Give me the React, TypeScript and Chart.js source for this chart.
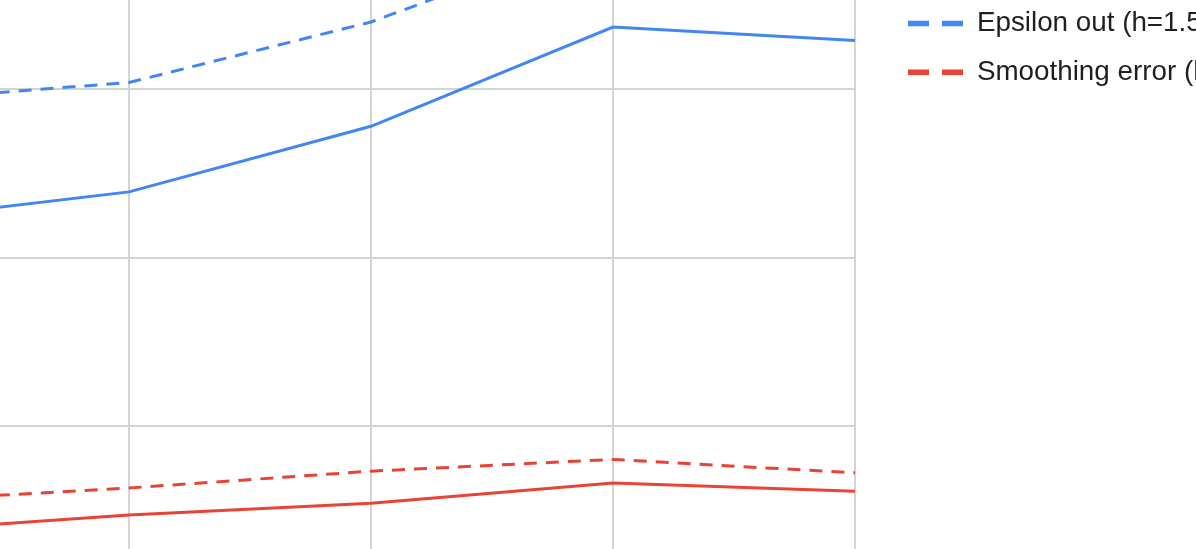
import React, { useEffect, useRef } from "react";
import { Chart, registerables } from "chart.js";

Chart.register(...registerables);

// Category labels (axis labels are outside the visible crop)
const categories = ["1", "2", "3", "4", "5"];

// Series values
const epsilonOutH10 = [0.222, 0.239, 0.278, 0.337, 0.329];
const smoothingErrorH10 = [0.037, 0.047, 0.054, 0.066, 0.061];
const epsilonOutH15 = [0.293, 0.304, 0.340, 0.393, 0.387];
const smoothingErrorH15 = [0.055, 0.063, 0.073, 0.080, 0.072];

const seriesLabels = [
  "Epsilon out (h=1.0)",
  "Smoothing error (h=1.0)",
  "Epsilon out (h=1.5)",
  "Smoothing error (h=1.5)",
];

const yMin = 0;
const yMax = 0.4;
const yStep = 0.1;

const BLUE = "#4285F4";
const RED = "#EA4335";

const CANVAS_W = 1320;
const CANVAS_H = 726;
const OFFSET_X = 113;
const OFFSET_Y = 112;

export default function App() {
  const canvasRef = useRef<HTMLCanvasElement | null>(null);

  useEffect(() => {
    if (!canvasRef.current) return;
    const chart = new Chart(canvasRef.current, {
      type: "line",
      data: {
        labels: categories,
        datasets: [
          { label: seriesLabels[0], data: epsilonOutH10, borderColor: BLUE, backgroundColor: BLUE, borderWidth: 3, borderDash: [] },
          { label: seriesLabels[1], data: smoothingErrorH10, borderColor: RED, backgroundColor: RED, borderWidth: 3, borderDash: [] },
          { label: seriesLabels[2], data: epsilonOutH15, borderColor: BLUE, backgroundColor: BLUE, borderWidth: 3, borderDash: [13, 9] },
          { label: seriesLabels[3], data: smoothingErrorH15, borderColor: RED, backgroundColor: RED, borderWidth: 3, borderDash: [13, 9] },
        ],
      },
      options: {
        responsive: false,
        animation: false,
        devicePixelRatio: 1,
        layout: { padding: { left: 0, top: 3, right: 0, bottom: 20 } },
        elements: {
          point: { radius: 0, hoverRadius: 0 },
          line: { tension: 0 },
        },
        scales: {
          x: {
            type: "category",
            offset: false,
            grid: { display: true, color: "#d4d4d4", lineWidth: 2, drawTicks: false },
            ticks: { display: false },
            border: { display: false },
          },
          y: {
            type: "linear",
            min: yMin,
            max: yMax,
            ticks: { display: false, stepSize: yStep },
            grid: { display: true, color: "#d4d4d4", lineWidth: 2, drawTicks: false },
            border: { display: false },
          },
          xTop: {
            type: "linear",
            axis: "x",
            position: "top",
            display: true,
            grid: { display: false, drawTicks: false },
            ticks: { display: false },
            border: { display: false },
            afterFit: (s: any) => {
              s.height = 30;
            },
          },
          yRight: {
            type: "linear",
            axis: "y",
            position: "right",
            display: true,
            grid: { display: false, drawTicks: false },
            ticks: { display: false },
            border: { display: false },
            afterFit: (s: any) => {
              s.width = 32;
            },
          },
        },
        plugins: {
          tooltip: { enabled: false },
          legend: {
            display: true,
            position: "right",
            align: "start",
            maxWidth: 320,
            labels: {
              usePointStyle: true,
              pointStyleWidth: 55,
              padding: 21,
              color: "#1f1f1f",
              font: { family: "'Liberation Sans', Arial, sans-serif", size: 27.8 },
              generateLabels: (c: any) =>
                c.data.datasets.map((ds: any, i: number) => ({
                  text: ds.label,
                  fillStyle: ds.borderColor,
                  strokeStyle: ds.borderColor,
                  fontColor: "#1f1f1f",
                  lineWidth: 5.5,
                  lineDash: ds.borderDash && ds.borderDash.length ? [21, 13] : [],
                  lineCap: "butt",
                  pointStyle: "line",
                  hidden: false,
                  datasetIndex: i,
                })),
            },
          },
        },
      },
    });
    return () => chart.destroy();
  }, []);

  return (
    <div
      style={{
        position: "fixed",
        left: 0,
        top: 0,
        width: 1196,
        height: 549,
        overflow: "hidden",
        background: "#ffffff",
      }}
    >
      <div
        style={{
          position: "absolute",
          left: -OFFSET_X,
          top: -OFFSET_Y,
          width: CANVAS_W,
          height: CANVAS_H,
        }}
      >
        <canvas
          ref={canvasRef}
          width={CANVAS_W}
          height={CANVAS_H}
          style={{ width: CANVAS_W, height: CANVAS_H, display: "block" }}
        />
      </div>
    </div>
  );
}
